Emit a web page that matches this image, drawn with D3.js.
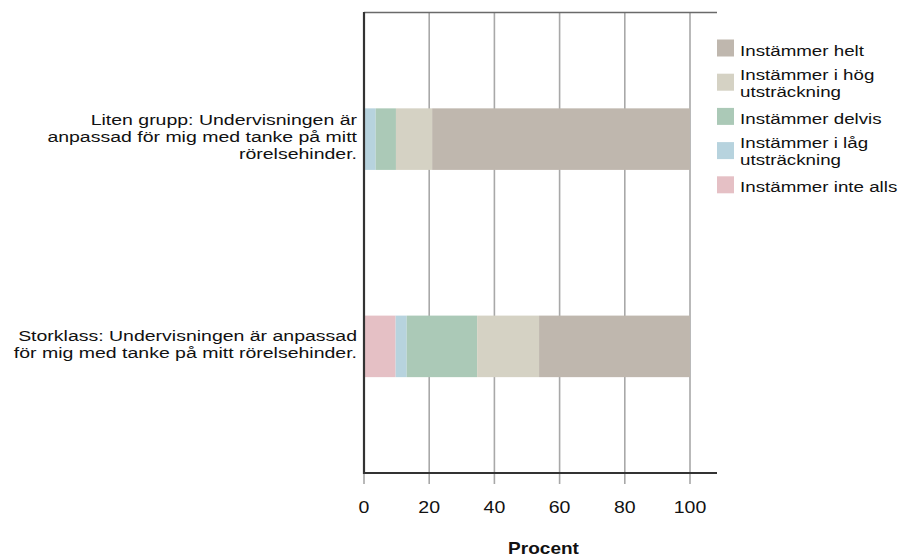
<!DOCTYPE html>
<html>
<head>
<meta charset="utf-8">
<script src="https://cdn.jsdelivr.net/npm/d3@7"></script>
<style>
  html, body { margin: 0; padding: 0; background: #fff; }
  svg { display: block; }
  text { font-family: "Liberation Sans", Arial, sans-serif; fill: #111; }
</style>
</head>
<body>
<svg id="chart" width="899" height="560"></svg>
<script>
// ---- data ----
const categories = [
  "Liten grupp: Undervisningen är anpassad för mig med tanke på mitt rörelsehinder.",
  "Storklass: Undervisningen är anpassad för mig med tanke på mitt rörelsehinder."
];
const categoryLines = [
  ["Liten grupp: Undervisningen är", "anpassad för mig med tanke på mitt", "rörelsehinder."],
  ["Storklass: Undervisningen är anpassad", "för mig med tanke på mitt rörelsehinder."]
];
// stacking order, left to right
const seriesNames = ["Instämmer inte alls", "Instämmer i låg utsträckning", "Instämmer delvis", "Instämmer i hög utsträckning", "Instämmer helt"];
const seriesColors = ["#e5c0c5", "#b7d3de", "#abc9b7", "#d5d2c4", "#bfb7ae"];
const inteAlls = [0, 9.7];
const lagUtstr = [3.6, 3.4];
const delvis   = [6.2, 21.6];
const hogUtstr = [11.1, 19.0];
const helt     = [79.1, 46.3];
const xTicks = [0, 20, 40, 60, 80, 100];
// legend order (top to bottom) and line breaks
const legendOrder = [4, 3, 2, 1, 0];
const legendLines = [
  ["Instämmer inte alls"],
  ["Instämmer i låg", "utsträckning"],
  ["Instämmer delvis"],
  ["Instämmer i hög", "utsträckning"],
  ["Instämmer helt"]
];
const xTitle = "Procent";

// ---- build table ----
const seriesValues = [inteAlls, lagUtstr, delvis, hogUtstr, helt];
const keys = seriesNames;
const table = categories.map((c, i) => {
  const row = { cat: c };
  keys.forEach((k, j) => row[k] = seriesValues[j][i]);
  return row;
});
const stacked = d3.stack().keys(keys)(table);

// ---- layout ----
const svg = d3.select("#chart");
const plotLeft = 364, plotRight = 717, plotTop = 12.5, plotBottom = 473;
const x = d3.scaleLinear().domain([0, 100]).range([plotLeft, 690]);
const y = d3.scaleBand().domain(categories).range([plotTop, plotBottom])
  .paddingInner(0.703).paddingOuter(0.4625);
const color = d3.scaleOrdinal().domain(keys).range(seriesColors);

// gridlines (extend below axis as ticks)
svg.append("g").selectAll("line").data(xTicks).join("line")
  .attr("x1", d => x(d)).attr("x2", d => x(d))
  .attr("y1", plotTop).attr("y2", plotBottom + 11)
  .attr("stroke", "#a8a8a8").attr("stroke-width", 1.6);

// top frame line
svg.append("line").attr("x1", plotLeft).attr("x2", plotRight)
  .attr("y1", plotTop).attr("y2", plotTop)
  .attr("stroke", "#6a6a6a").attr("stroke-width", 1.4);

// bars
svg.append("g").selectAll("g").data(stacked).join("g")
  .attr("fill", d => color(d.key))
  .selectAll("rect").data(d => d).join("rect")
  .attr("x", d => x(d[0]))
  .attr("width", d => Math.max(0, x(d[1]) - x(d[0])))
  .attr("y", d => y(d.data.cat))
  .attr("height", y.bandwidth());

// axes lines
svg.append("line").attr("x1", plotLeft).attr("x2", plotRight)
  .attr("y1", plotBottom).attr("y2", plotBottom)
  .attr("stroke", "#333").attr("stroke-width", 2);
svg.append("line").attr("x1", plotLeft).attr("x2", plotLeft)
  .attr("y1", plotTop - 0.5).attr("y2", plotBottom + 1)
  .attr("stroke", "#333").attr("stroke-width", 2.2);

// x tick labels
svg.append("g").selectAll("text").data(xTicks).join("text")
  .attr("transform", d => `translate(${x(d)},${512.5}) scale(1.22,1)`)
  .attr("text-anchor", "middle")
  .style("font-size", "16px")
  .text(d => d);

// x title
svg.append("text")
  .attr("transform", `translate(${(plotLeft + plotRight) / 2 + 3},${554}) scale(1.12,1)`)
  .attr("text-anchor", "middle")
  .style("font-size", "17px").style("font-weight", "bold")
  .text(xTitle);

// category labels
const lineH = 17;
const sxLabel = 1.3;
categories.forEach((c, i) => {
  const lines = categoryLines[i];
  const cy = y(c) + y.bandwidth() / 2;
  const first = cy - (lines.length - 1) * lineH / 2 + 3;
  svg.append("g").selectAll("text").data(lines).join("text")
    .attr("transform", (d, j) => `translate(357,${first + j * lineH}) scale(${sxLabel},1)`)
    .attr("text-anchor", "end")
    .style("font-size", "15px")
    .text(d => d);
});

// legend
const legTop = 39.5, legStep = 34.2, sw = 17;
legendOrder.forEach((si, k) => {
  const top = legTop + k * legStep;
  svg.append("rect").attr("x", 717).attr("y", top).attr("width", sw).attr("height", sw)
    .attr("fill", color(keys[si]));
  const lines = legendLines[si];
  const base = lines.length === 1 ? top + 16 : top + 6;
  svg.append("g").selectAll("text").data(lines).join("text")
    .attr("transform", (d, j) => `translate(740,${base + j * 17}) scale(1.25,1)`)
    .style("font-size", "15px")
    .text(d => d);
});
</script>
</body>
</html>
